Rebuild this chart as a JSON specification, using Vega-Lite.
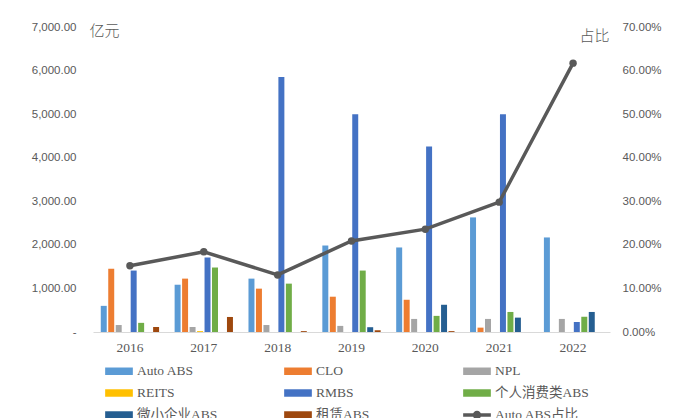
{
  "$schema": "https://vega.github.io/schema/vega-lite/v6.json",
  "autosize": {"type": "none"},
  "width": 517,
  "height": 305,
  "padding": {"left": 93, "top": 27, "right": 73, "bottom": 86},
  "background": "#ffffff",
  "config": {"view": {"stroke": null}},
  "datasets": {
    "volume": [
      {"year": "2016", "series": "Auto ABS", "value": 600},
      {"year": "2016", "series": "CLO", "value": 1450},
      {"year": "2016", "series": "NPL", "value": 160},
      {"year": "2016", "series": "RMBS", "value": 1410},
      {"year": "2016", "series": "个人消费类ABS", "value": 210},
      {"year": "2016", "series": "租赁ABS", "value": 115},
      {"year": "2017", "series": "Auto ABS", "value": 1085},
      {"year": "2017", "series": "CLO", "value": 1225},
      {"year": "2017", "series": "NPL", "value": 115},
      {"year": "2017", "series": "REITS", "value": 20},
      {"year": "2017", "series": "RMBS", "value": 1710},
      {"year": "2017", "series": "个人消费类ABS", "value": 1480},
      {"year": "2017", "series": "租赁ABS", "value": 345},
      {"year": "2018", "series": "Auto ABS", "value": 1225},
      {"year": "2018", "series": "CLO", "value": 995},
      {"year": "2018", "series": "NPL", "value": 160},
      {"year": "2018", "series": "RMBS", "value": 5850},
      {"year": "2018", "series": "个人消费类ABS", "value": 1110},
      {"year": "2018", "series": "租赁ABS", "value": 20},
      {"year": "2019", "series": "Auto ABS", "value": 1985},
      {"year": "2019", "series": "CLO", "value": 810},
      {"year": "2019", "series": "NPL", "value": 140},
      {"year": "2019", "series": "RMBS", "value": 5000},
      {"year": "2019", "series": "个人消费类ABS", "value": 1410},
      {"year": "2019", "series": "微小企业ABS", "value": 110},
      {"year": "2019", "series": "租赁ABS", "value": 40},
      {"year": "2020", "series": "Auto ABS", "value": 1940},
      {"year": "2020", "series": "CLO", "value": 740},
      {"year": "2020", "series": "NPL", "value": 300},
      {"year": "2020", "series": "RMBS", "value": 4260},
      {"year": "2020", "series": "个人消费类ABS", "value": 370},
      {"year": "2020", "series": "微小企业ABS", "value": 625},
      {"year": "2020", "series": "租赁ABS", "value": 20},
      {"year": "2021", "series": "Auto ABS", "value": 2630},
      {"year": "2021", "series": "CLO", "value": 100},
      {"year": "2021", "series": "NPL", "value": 300},
      {"year": "2021", "series": "RMBS", "value": 5000},
      {"year": "2021", "series": "个人消费类ABS", "value": 460},
      {"year": "2021", "series": "微小企业ABS", "value": 330},
      {"year": "2022", "series": "Auto ABS", "value": 2170},
      {"year": "2022", "series": "NPL", "value": 300},
      {"year": "2022", "series": "RMBS", "value": 230},
      {"year": "2022", "series": "个人消费类ABS", "value": 350},
      {"year": "2022", "series": "微小企业ABS", "value": 460}
    ],
    "share": [
      {"year": "2016", "share": 0.152},
      {"year": "2017", "share": 0.184},
      {"year": "2018", "share": 0.131},
      {"year": "2019", "share": 0.209},
      {"year": "2020", "share": 0.236},
      {"year": "2021", "share": 0.298},
      {"year": "2022", "share": 0.617}
    ]
  },
  "encoding": {
    "x": {
      "field": "year",
      "type": "nominal",
      "sort": ["2016", "2017", "2018", "2019", "2020", "2021", "2022"],
      "scale": {"paddingInner": 0.19, "paddingOuter": 0.095},
      "axis": {
        "title": null,
        "labelAngle": 0,
        "ticks": false,
        "domainColor": "#d9d9d9",
        "domainWidth": 1,
        "labelFont": "Liberation Serif",
        "labelFontSize": 13.5,
        "labelColor": "#595959",
        "labelPadding": 8
      }
    }
  },
  "layer": [
    {
      "data": {"name": "volume"},
      "mark": {"type": "bar"},
      "encoding": {
        "xOffset": {
          "field": "series",
          "type": "nominal",
          "scale": {
            "domain": ["Auto ABS", "CLO", "NPL", "REITS", "RMBS", "个人消费类ABS", "微小企业ABS", "租赁ABS"],
            "paddingInner": 0.2,
            "paddingOuter": 0.1
          }
        },
        "y": {
          "field": "value",
          "type": "quantitative",
          "scale": {"domain": [0, 7000], "nice": false},
          "axis": {
            "values": [0, 1000, 2000, 3000, 4000, 5000, 6000, 7000],
            "labelExpr": "datum.value == 0 ? '-\u00a0\u00a0\u00a0' : format(datum.value, ',.2f')",
            "grid": false,
            "domain": false,
            "ticks": false,
            "labelFont": "Liberation Sans",
            "labelFontSize": 11.5,
            "labelColor": "#595959",
            "labelPadding": 17,
            "title": "亿元",
            "titleAngle": 0,
            "titleX": -4,
            "titleY": 3,
            "titleAlign": "left",
            "titleBaseline": "middle",
            "titleFont": "Noto Sans CJK SC",
            "titleFontSize": 15,
            "titleFontWeight": 300,
            "titleColor": "#595959"
          }
        },
        "color": {
          "field": "series",
          "type": "nominal",
          "scale": {
            "domain": ["Auto ABS", "CLO", "NPL", "REITS", "RMBS", "个人消费类ABS", "微小企业ABS", "租赁ABS", "Auto ABS占比"],
            "range": ["#5b9bd5", "#ed7d31", "#a5a5a5", "#ffc000", "#4472c4", "#70ad47", "#255e91", "#9e480e", "#595959"]
          },
          "legend": {
            "title": null,
            "orient": "none",
            "legendX": 12,
            "legendY": 330,
            "direction": "horizontal",
            "columns": 3,
            "gridAlign": "all",
            "columnPadding": 53,
            "rowPadding": 1,
            "padding": 0,
            "symbolType": "M-1,-0.27H1V0.27H-1Z",
            "symbolSize": 767,
            "symbolStrokeWidth": 0,
            "labelFont": "Liberation Serif, Noto Sans CJK SC",
            "labelFontSize": 13.5,
            "labelColor": "#595959",
            "labelOffset": 4,
            "labelLimit": 200,
            "encode": {
              "symbols": {
                "update": {
                  "shape": {
                    "signal": "datum.value === 'Auto ABS占比' ? 'M-1,-0.13H1V0.13H-1Z M-0.3,0A0.3,0.3 0 1,1 0.3,0A0.3,0.3 0 1,1 -0.3,0Z' : 'M-1,-0.27H1V0.27H-1Z'"
                  }
                }
              }
            }
          }
        }
      }
    },
    {
      "data": {"name": "share"},
      "layer": [
        {
          "mark": {"type": "line", "strokeWidth": 3.5},
          "encoding": {
            "y": {
              "field": "share",
              "type": "quantitative",
              "scale": {"domain": [0, 0.7], "nice": false},
              "axis": {
                "orient": "right",
                "values": [0, 0.1, 0.2, 0.3, 0.4, 0.5, 0.6, 0.7],
                "format": ".2%",
                "grid": false,
                "domain": false,
                "ticks": false,
                "labelFont": "Liberation Sans",
                "labelFontSize": 11.5,
                "labelColor": "#595959",
                "labelPadding": 12,
                "title": "占比",
                "titleAngle": 0,
                "titleX": -31,
                "titleY": 8,
                "titleAlign": "left",
                "titleBaseline": "middle",
                "titleFont": "Noto Sans CJK SC",
                "titleFontSize": 15,
                "titleFontWeight": 300,
                "titleColor": "#595959"
              }
            },
            "color": {"datum": "Auto ABS占比"}
          }
        },
        {
          "mark": {"type": "point", "filled": true, "size": 55, "opacity": 1},
          "encoding": {
            "y": {"field": "share", "type": "quantitative"},
            "color": {"datum": "Auto ABS占比"}
          }
        }
      ]
    }
  ],
  "resolve": {"scale": {"y": "independent"}}
}
